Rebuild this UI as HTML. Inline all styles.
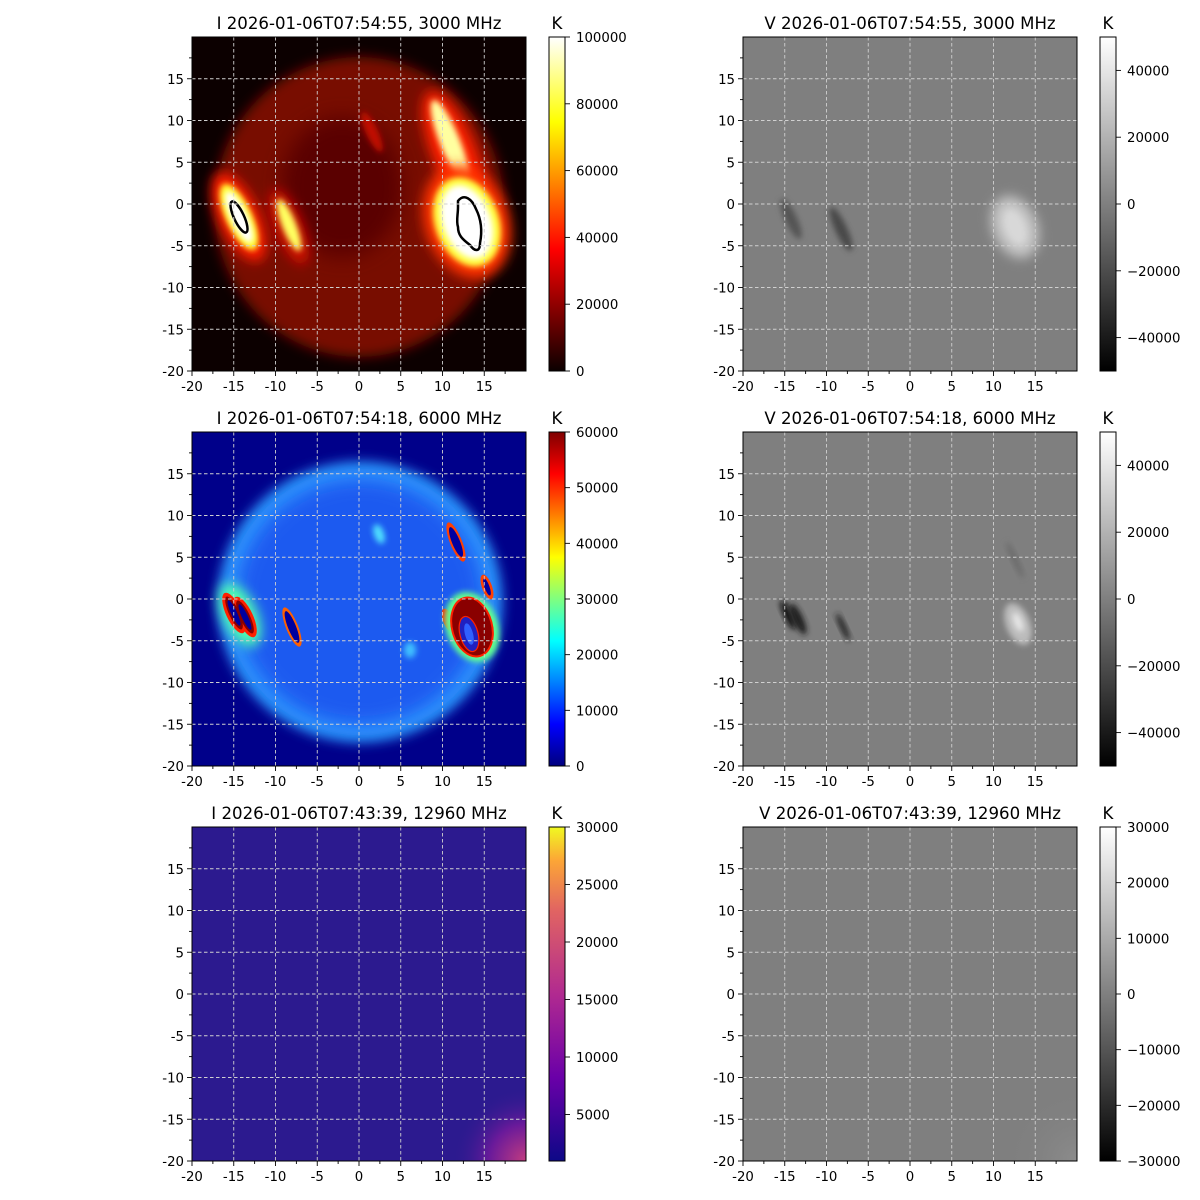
<!DOCTYPE html>
<html><head><meta charset="utf-8"><style>
html,body{margin:0;padding:0;background:#fff;width:1200px;height:1200px;overflow:hidden}
svg text{font-family:"DejaVu Sans","Liberation Sans",sans-serif;fill:#000}
</style></head><body>
<svg id="s" width="1200" height="1200" xmlns="http://www.w3.org/2000/svg">
<defs>
<filter id="b3" x="-50%" y="-50%" width="200%" height="200%"><feGaussianBlur stdDeviation="3"/></filter>
<filter id="b6" x="-50%" y="-50%" width="200%" height="200%"><feGaussianBlur stdDeviation="6"/></filter>
<filter id="b10" x="-50%" y="-50%" width="200%" height="200%"><feGaussianBlur stdDeviation="10"/></filter>
<linearGradient id="ghot" x1="0" y1="1" x2="0" y2="0"><stop offset="0" stop-color="#0b0000"/><stop offset="0.365" stop-color="#ff0000"/><stop offset="0.746" stop-color="#ffff00"/><stop offset="1" stop-color="#ffffff"/></linearGradient>
<linearGradient id="gjet" x1="0" y1="1" x2="0" y2="0"><stop offset="0" stop-color="#00007f"/><stop offset="0.125" stop-color="#0000ff"/><stop offset="0.375" stop-color="#00ffff"/><stop offset="0.625" stop-color="#ffff00"/><stop offset="0.875" stop-color="#ff0000"/><stop offset="1" stop-color="#7f0000"/></linearGradient>
<linearGradient id="gpl" x1="0" y1="1" x2="0" y2="0"><stop offset="0" stop-color="#0d0887"/><stop offset="0.25" stop-color="#6a00a8"/><stop offset="0.5" stop-color="#b12a90"/><stop offset="0.75" stop-color="#e16462"/><stop offset="0.9" stop-color="#fca636"/><stop offset="1" stop-color="#f0f921"/></linearGradient>
<linearGradient id="ggr" x1="0" y1="1" x2="0" y2="0"><stop offset="0" stop-color="#000"/><stop offset="1" stop-color="#fff"/></linearGradient>
<radialGradient id="corner" cx="1" cy="1" r="0.22"><stop offset="0" stop-color="#c23c80"/><stop offset="0.5" stop-color="#6a1a9a"/><stop offset="1" stop-color="#2c1a8f" stop-opacity="0"/></radialGradient>
<radialGradient id="cornerg" cx="1" cy="1" r="0.22"><stop offset="0" stop-color="#8c8c8c"/><stop offset="1" stop-color="#7f7f7f" stop-opacity="0"/></radialGradient>
<clipPath id="cp"><rect x="0" y="0" width="334" height="334"/></clipPath>
</defs>
</svg>
<script>
const S=document.getElementById('s');
const NS='http://www.w3.org/2000/svg';
function g(parent,tag,attrs,txt){const e=document.createElementNS(NS,tag);for(const k in attrs)e.setAttribute(k,attrs[k]);if(txt!==undefined)e.textContent=txt;parent.appendChild(e);return e;}
const E=(c,rx,ry,rot,f,extra)=>`<ellipse cx="${c[0]}" cy="${c[1]}" rx="${rx}" ry="${ry}" transform="rotate(${rot} ${c[0]} ${c[1]})" fill="${f}" ${extra||''}/>`;
const content=[
`<rect width="334" height="334" fill="#0c0000"/>
<ellipse cx="167" cy="170" rx="145" ry="150" fill="#780a00" filter="url(#b6)"/>
<ellipse cx="150" cy="150" rx="60" ry="70" fill="#5a0600" filter="url(#b10)"/>
${E([47,180],20,48,-25,'#ff1a00','filter="url(#b6)"')}
${E([47,180],13,36,-25,'#ffff30','filter="url(#b3)"')}
${E([47,180],8,28,-25,'#ffffff','filter="url(#b3)"')}
${E([97,190],14,40,-22,'#d01000','filter="url(#b6)"')}
${E([97,188],7,28,-22,'#ffff60','filter="url(#b3)"')}
${E([180,95],6,22,-25,'#c01000','filter="url(#b3)"')}
${E([262,115],22,65,-22,'#ff2000','filter="url(#b6)"')}
${E([258,105],10,45,-22,'#ffffa0','filter="url(#b3)"')}
${E([275,185],42,58,-20,'#ff3000','filter="url(#b6)"')}
${E([275,185],32,46,-20,'#ffff40','filter="url(#b3)"')}
${E([275,185],24,38,-20,'#ffffff','filter="url(#b3)"')}
${E([47,180],5,17,-25,'none','stroke="#000" stroke-width="2.5"')}
<path d="M266,164 C272,156 280,162 284,172 C290,184 290,196 288,206 C288,216 282,214 278,208 C270,202 266,198 266,190 C264,184 266,178 266,170 Z" fill="none" stroke="#000" stroke-width="2.5"/>`,
`<rect width="334" height="334" fill="#7f7f7f"/>
${E([48,182],6,22,-25,'#555','filter="url(#b3)"')}
${E([98,192],6,24,-25,'#4a4a4a','filter="url(#b3)"')}
${E([272,190],22,32,-22,'#c8c8c8','filter="url(#b6)"')}
${E([272,190],10,18,-22,'#d8d8d8','filter="url(#b3)"')}`,
`<rect width="334" height="334" fill="#00008a"/>
<ellipse cx="168" cy="170" rx="142" ry="140" fill="#2d9bff" filter="url(#b6)"/>
<ellipse cx="168" cy="170" rx="125" ry="124" fill="#1a5af0" filter="url(#b10)"/>
${E([187,102],5,10,-20,'#50e0ff','filter="url(#b3)"')}
${E([218,218],6,8,0,'#40c0ff','filter="url(#b3)"')}
${E([48,183],17,34,-25,'#50ffb0','filter="url(#b6)"')}
${E([42,181],8,22,-25,'#ff2000')}${E([53,185],8,22,-25,'#ff2000')}
${E([42,181],5,18,-25,'#8a0000')}${E([53,185],5,18,-25,'#8a0000')}
${E([42,181],3,14,-25,'#0000a0')}${E([53,185],3,14,-25,'#0000a0')}
${E([100,195],6,21,-22,'#ff6000')}${E([100,195],4,17,-22,'#0000a0')}
${E([264,110],6,21,-22,'#ff4000')}${E([264,110],4,16,-22,'#0000a0')}
${E([295,155],5,13,-20,'#ff4000')}${E([295,155],2.5,9,-20,'#0000a0')}
${E([256,188],5,12,-20,'#ff2000')}
${E([280,195],26,36,-20,'#60ff90','filter="url(#b3)"')}
${E([280,195],20,30,-15,'#8a0000','stroke="#ff2000" stroke-width="2"')}
${E([277,202],9,18,-15,'#2020c0','stroke="#ff2000" stroke-width="1.2"')}
${E([277,202],4,11,-15,'#3060ff')}`,
`<rect width="334" height="334" fill="#7f7f7f"/>
${E([45,183],4,16,-25,'#111','filter="url(#b3)"')}
${E([55,187],5,17,-25,'#1a1a1a','filter="url(#b3)"')}
${E([100,195],3,15,-25,'#222','filter="url(#b3)"')}
${E([272,128],3,20,-25,'#6a6a6a','filter="url(#b3)"')}
${E([275,192],12,22,-22,'#bcbcbc','filter="url(#b3)"')}
${E([275,190],4,10,-22,'#e8e8e8','filter="url(#b3)"')}`,
`<rect width="334" height="334" fill="#2c1a8f"/>
<ellipse cx="300" cy="345" rx="80" ry="40" fill="url(#corner)"/>
<rect width="334" height="334" fill="url(#corner)"/>`,
`<rect width="334" height="334" fill="#7f7f7f"/>
<rect width="334" height="334" fill="url(#cornerg)"/>`
];
const titles=['I 2026-01-06T07:54:55, 3000 MHz','V 2026-01-06T07:54:55, 3000 MHz','I 2026-01-06T07:54:18, 6000 MHz','V 2026-01-06T07:54:18, 6000 MHz','I 2026-01-06T07:43:39, 12960 MHz','V 2026-01-06T07:43:39, 12960 MHz'];
const cbars=[
 {grad:'ghot',min:0,max:100000,ticks:[0,20000,40000,60000,80000,100000]},
 {grad:'ggr',min:-50000,max:50000,ticks:[-40000,-20000,0,20000,40000]},
 {grad:'gjet',min:0,max:60000,ticks:[0,10000,20000,30000,40000,50000,60000]},
 {grad:'ggr',min:-50000,max:50000,ticks:[-40000,-20000,0,20000,40000]},
 {grad:'gpl',min:957,max:30000,ticks:[5000,10000,15000,20000,25000,30000]},
 {grad:'ggr',min:-30000,max:30000,ticks:[-30000,-20000,-10000,0,10000,20000,30000]}];
const W=334,k=W/40;
for(let i=0;i<6;i++){
 const x0=i%2?743:192,y0=[37,432,827][Math.floor(i/2)];
 const G=g(S,'g',{transform:`translate(${x0},${y0})`});
 const inner=g(G,'g',{'clip-path':'url(#cp)'});inner.innerHTML=content[i];
 let gs='';
 for(let v=-15;v<=15;v+=5){const p=(v+20)*k,q=(20-v)*k;
  gs+=`<line x1="${p}" y1="0" x2="${p}" y2="${W}" stroke="#d0d0d0" stroke-width="0.9" stroke-dasharray="3.5,2.5"/>`;
  gs+=`<line x1="0" y1="${q}" x2="${W}" y2="${q}" stroke="#d0d0d0" stroke-width="0.9" stroke-dasharray="3.5,2.5"/>`;}
 inner.insertAdjacentHTML('beforeend',gs);
 let a=`<rect x="0" y="0" width="${W}" height="${W}" fill="none" stroke="#000" stroke-width="1"/>`;
 for(let v=-20;v<20;v+=2.5){const p=(v+20)*k,q=(20-v)*k,maj=(v%5===0);const L=maj?5:3;
  a+=`<line x1="${p}" y1="${W}" x2="${p}" y2="${W+L}" stroke="#000" stroke-width="0.9"/>`;
  a+=`<line x1="0" y1="${q}" x2="${-L}" y2="${q}" stroke="#000" stroke-width="0.9"/>`;
  if(maj){a+=`<text x="${p}" y="${W+20}" font-size="13.3" text-anchor="middle">${v}</text>`;
   a+=`<text x="-8" y="${q+5}" font-size="13.3" text-anchor="end">${v}</text>`;}
 }
 a+=`<text x="${W/2}" y="-8" font-size="16.6" text-anchor="middle">${titles[i]}</text>`;
 const cb=cbars[i],cx=357;
 a+=`<rect x="${cx}" y="0" width="16" height="${W}" fill="url(#${cb.grad})" stroke="#000" stroke-width="1"/>`;
 a+=`<text x="${cx+8}" y="-8" font-size="16.6" text-anchor="middle">K</text>`;
 for(const t of cb.ticks){const q=W-(t-cb.min)/(cb.max-cb.min)*W;
  a+=`<line x1="${cx+16}" y1="${q}" x2="${cx+21}" y2="${q}" stroke="#000" stroke-width="0.9"/>`;
  a+=`<text x="${cx+27}" y="${q+5}" font-size="13.3">${t<0?'\u2212'+(-t):t}</text>`;}
 G.insertAdjacentHTML('beforeend',a);
}
</script>
</body></html>
